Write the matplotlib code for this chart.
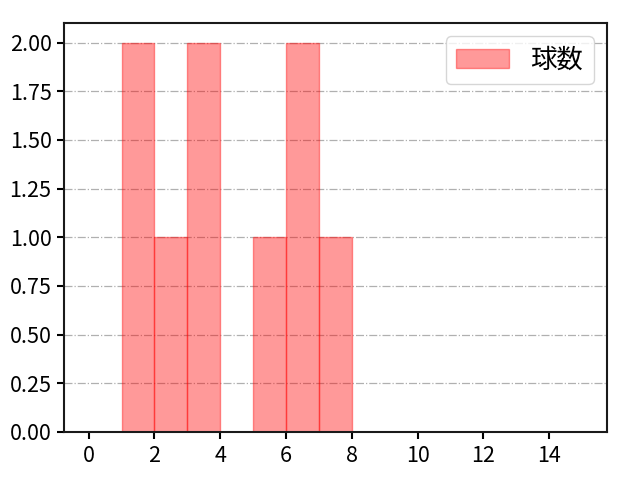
import matplotlib
matplotlib.use("Agg")
import matplotlib.pyplot as plt
import numpy as np

plt.rcParams['font.family'] = ['Noto Sans CJK JP', 'DejaVu Sans']

bin_edges = [1, 2, 3, 4, 5, 6, 7, 8]
counts = [2, 1, 2, 0, 1, 2, 1]
label = "球数"

fig, ax = plt.subplots(figsize=(6.4, 4.8), dpi=100)
ax.hist(bin_edges[:-1], bins=bin_edges, weights=counts, color='red', alpha=0.4,
        edgecolor='red', linewidth=1, label=label)
ax.set_xlim(-0.75, 15.75)
ax.set_ylim(0, 2.1)
ax.set_xticks(np.arange(0, 15, 2))
ax.yaxis.set_major_formatter(matplotlib.ticker.FormatStrFormatter('%.2f'))
ax.grid(axis='y', color='#b0b0b0', linestyle='-.', linewidth=0.9)
ax.set_axisbelow(True)
for s in ax.spines.values():
    s.set_linewidth(1.5)
    s.set_color('#1a1a1a')
ax.tick_params(labelsize=15.5, width=1.5, length=5, pad=4)
ax.legend(loc='upper right', fontsize=19)
fig.subplots_adjust(left=0.1, right=0.948, top=0.952, bottom=0.1)
fig.savefig("out.png", dpi=100)
